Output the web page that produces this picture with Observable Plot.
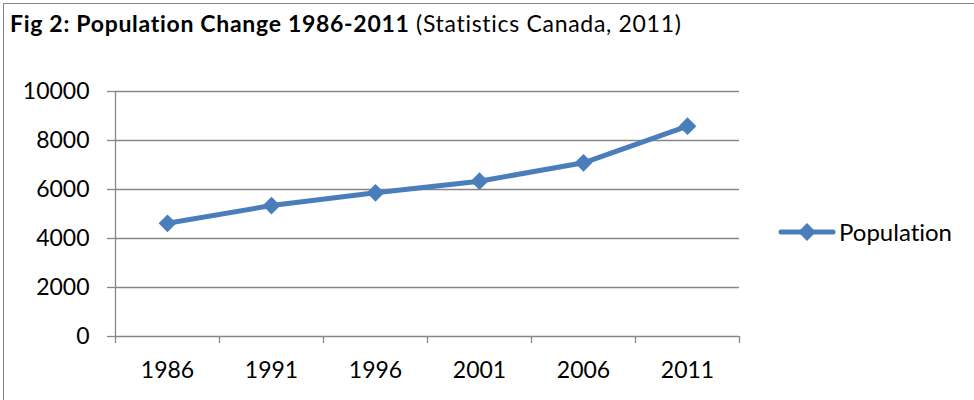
<!DOCTYPE html>
<html>
<head>
<meta charset="utf-8">
<script src="https://cdn.jsdelivr.net/npm/d3@7"></script>
<script src="https://cdn.jsdelivr.net/npm/@observablehq/plot@0.6"></script>
<style>
  html, body { margin: 0; padding: 0; background: #fff; }
  body { width: 974px; height: 400px; position: relative; overflow: hidden; font-family: Lato, "Noto Sans", sans-serif; color: #000; font-variant-ligatures: none; }
  #frame { position: absolute; left: 3px; top: 3px; width: 1000px; height: 420px; border: 1.5px solid #868686; box-sizing: border-box; }
  #title { position: absolute; left: 10px; top: 10px; font-size: 23px; line-height: 27.6px; letter-spacing: 0.7px; white-space: nowrap; }
  #title b { font-weight: 700; }
  #chart { position: absolute; left: 0; top: 60px; }
  #chart svg text { font-variant-ligatures: none; }
  #legend { position: absolute; left: 778px; top: 217px; display: flex; align-items: center; font-size: 24px; line-height: 30px; }
  #legend svg { margin-right: 3px; }
</style>
</head>
<body>
<div id="frame"></div>
<div id="title"><b>Fig 2: Population Change 1986-2011</b> (Statistics Canada, 2011)</div>
<div id="chart"></div>
<div id="legend"></div>
<script>
// Census years and population counts
const years = ["1986", "1991", "1996", "2001", "2006", "2011"];
const population = [4620, 5345, 5865, 6340, 7090, 8585];
const yTicks = [0, 2000, 4000, 6000, 8000, 10000];
const seriesName = "Population";

const blue = "#4a7ebb";
const axisGray = "#868686";
const markerR = 8;

// Each category sits in the middle of its slot; slot edges get tick marks
const data = years.map((year, i) => ({year, slot: i + 0.5, population: population[i]}));
const slotEdges = d3.range(0, years.length + 1);

const chart = Plot.plot({
  width: 760,
  height: 340,
  marginLeft: 115,
  marginRight: 21,
  marginTop: 31,
  marginBottom: 64,
  style: {fontFamily: "Lato, 'Noto Sans', sans-serif", fontSize: "23px", color: "#000", background: "transparent"},
  x: {domain: [0, years.length], axis: null},
  y: {domain: [0, 10000], axis: null},
  marks: [
    Plot.gridY(yTicks, {stroke: axisGray, strokeOpacity: 1, strokeWidth: 1.3}),
    Plot.axisY(yTicks, {tickSize: 8, tickPadding: 18, stroke: axisGray, strokeWidth: 1.3, tickFormat: d => String(d), label: null, fontSize: 23}),
    Plot.ruleX([0], {y1: 10000, y2: 0, stroke: axisGray, strokeWidth: 1.3}),
    Plot.ruleX(slotEdges, {y1: 0, y2: 0, insetBottom: -7, stroke: axisGray, strokeWidth: 1.3}),
    Plot.axisX(data.map(d => d.slot), {tickSize: 0, tickPadding: 25, tickFormat: v => years[Math.floor(v)], label: null, fontSize: 23}),
    Plot.line(data, {x: "slot", y: "population", stroke: blue, strokeWidth: 5, strokeLinejoin: "round", strokeLinecap: "round"}),
    Plot.dot(data, {x: "slot", y: "population", symbol: "diamond2", r: markerR, fill: blue, stroke: "none"})
  ]
});
document.getElementById("chart").append(chart);

// Legend: line with diamond, then series name
const legend = d3.select("#legend");
const key = legend.append("svg").attr("width", 58).attr("height", 30);
key.append("line").attr("x1", 3).attr("x2", 55).attr("y1", 15).attr("y2", 15)
  .attr("stroke", blue).attr("stroke-width", 5).attr("stroke-linecap", "round");
key.append("path").attr("transform", "translate(29,15)")
  .attr("d", d3.symbol(d3.symbolDiamond2, Math.PI * markerR * markerR)())
  .attr("fill", blue);
legend.append("span").text(seriesName);
</script>
</body>
</html>
